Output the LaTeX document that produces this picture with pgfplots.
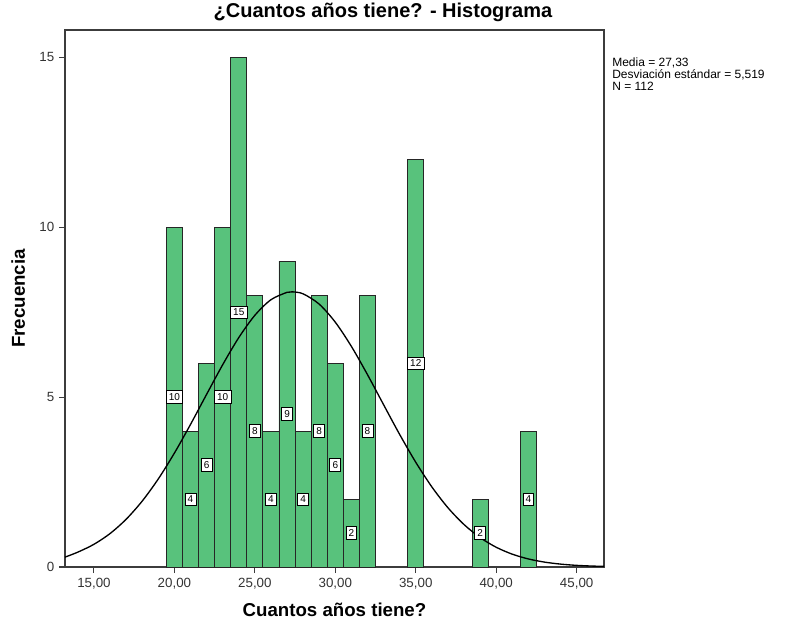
\documentclass[border=0pt]{standalone}
\usepackage{fontspec}
\setmainfont{Liberation Sans}
\usepackage{pgfplots}
\pgfplotsset{compat=1.18}

\definecolor{bargreen}{RGB}{88,194,124}
\definecolor{axisgray}{RGB}{60,60,60}

\begin{document}
\begin{tikzpicture}
\path[use as bounding box] (-48.75pt,-45.75pt) rectangle (548.25pt,425.25pt);

\begin{axis}[
scale only axis,
width=404.25pt, height=402.75pt,
xmin=13.2, xmax=46.7,
ymin=0, ymax=15.8,
axis line style={axisgray, line width=0.9pt},
tick align=outside,
tick pos=left,
major tick length=4.5pt,
tick style={axisgray, line width=0.8pt},
xtick={15,20,25,30,35,40,45},
xticklabels={{15,00},{20,00},{25,00},{30,00},{35,00},{40,00},{45,00}},
ytick={0,5,10,15},
yticklabels={0,5,10,15},
ticklabel style={font=\fontsize{10}{11}\selectfont, text=black!80},
/pgf/number format/assume math mode=true,
xlabel={Cuantos años tiene?},
ylabel={Frecuencia},
xlabel style={font=\bfseries\fontsize{14}{16}\selectfont, at={(axis description cs:0.5,-0.08)}, anchor=center},
ylabel style={font=\bfseries\fontsize{14}{16}\selectfont, at={(axis description cs:-0.087,0.5)}, anchor=center, rotate=0},
clip=false,
]
% histogram bars, bin width 1
\addplot[ybar, bar width=1, bar shift=0pt, fill=bargreen, draw=black!85, line width=0.7pt]
table {%
20 10
21 4
22 6
23 10
24 15
25 8
26 4
27 9
28 4
29 8
30 6
31 2
32 8
35 12
39 2
42 4
};

% normal curve (mean 27.33, sd 5.519, N=112)
\addplot[smooth, black, line width=1pt]
table {%
13.2 0.29
14 0.438
15 0.668
16 0.984
17 1.405
18 1.940
19 2.592
20 3.352
21 4.194
22 5.079
23 5.951
24 6.749
25 7.406
26 7.864
27 8.081
27.33 8.096
28 8.037
29 7.734
30 7.202
31 6.490
32 5.660
33 4.776
34 3.900
35 3.082
36 2.357
37 1.744
38 1.249
39 0.866
40 0.581
41 0.377
42 0.237
43 0.144
44 0.085
45 0.048
46 0.027
46.7 0.019
};

% count labels at mid-height of bars
\addplot[draw=none, mark=none, point meta=explicit symbolic,
  nodes near coords, nodes near coords align=center,
  every node near coord/.append style={draw=black, fill=white, line width=0.6pt,
    inner sep=2pt, font=\fontsize{7.5}{8}\selectfont, anchor=center}]
table[meta=c] {%
x y c
20 5 10
21 2 4
22 3 6
23 5 10
24 7.5 15
25 4 8
26 2 4
27 4.5 9
28 2 4
29 4 8
30 3 6
31 1 2
32 4 8
35 6 12
39 1 2
42 2 4
};

\node[anchor=north west, align=left, font=\fontsize{9}{9}\selectfont, inner sep=0pt]
  at ([xshift=6pt, yshift=-20.5pt]rel axis cs:1,1)
  {Media = 27,33\\Desviación estándar = 5,519\\N = 112};
\end{axis}

\node[font=\bfseries\fontsize{15}{17}\selectfont, anchor=center] at (238.5pt,416pt)
  {¿Cuantos años tiene? - Histograma};
\end{tikzpicture}
\end{document}
